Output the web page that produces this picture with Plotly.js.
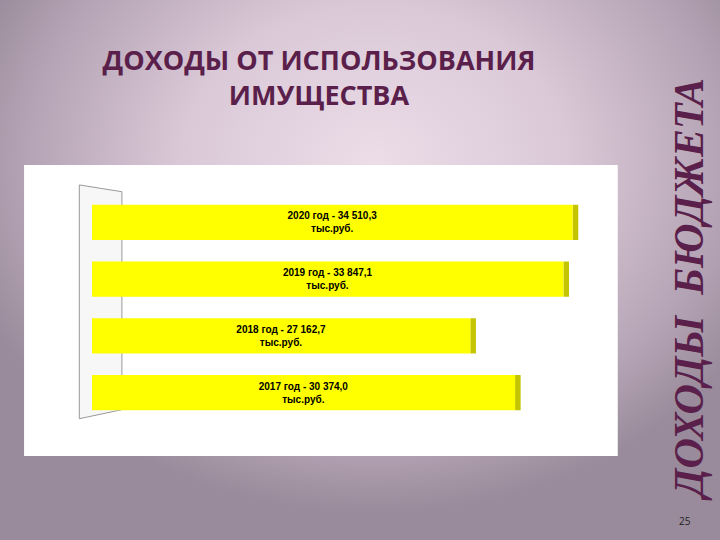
<!DOCTYPE html>
<html><head><meta charset="utf-8">
<script src="https://cdn.plot.ly/plotly-3.0.1.min.js"></script>
<style>
html,body{margin:0;padding:0;}
body{width:720px;height:540px;overflow:hidden;
background: radial-gradient(ellipse 60% 65% at 52% 30%, #ecdde8 0%, #dac8d7 45%, #b5a4b5 80%, #998b9b 100%);}
#chart{width:720px;height:540px;}
</style></head>
<body>
<div id="chart"></div>
<script>
const years = ['2017', '2018', '2019', '2020'];
const values = [30374.0, 27162.7, 33847.1, 34510.3];
const valueLabels = ['30 374,0', '27 162,7', '33 847,1', '34 510,3'];
const unit = 'тыс.руб.';
const titleText = 'ДОХОДЫ ОТ ИСПОЛЬЗОВАНИЯ<br>ИМУЩЕСТВА';
const sideText = 'ДОХОДЫ  БЮДЖЕТА';
const pageNo = '25';

const labels = years.map((y, i) => '<b>' + y + ' год - ' + valueLabels[i] + '<br>' + unit + '</b>');
const sideDepth = 400; // visual depth of the 3D end face (style)

const trace = {
  type: 'bar',
  orientation: 'h',
  y: years,
  x: values,
  text: labels,
  textposition: 'inside',
  insidetextanchor: 'middle',
  textfont: {family: '"Liberation Sans", Arial, sans-serif', size: 10, color: '#000'},
  marker: {color: '#ffff00', line: {width: 0}},
  hoverinfo: 'none'
};
const side = {
  type: 'bar',
  orientation: 'h',
  y: years,
  base: values,
  x: values.map(() => sideDepth),
  marker: {color: '#c4c400', line: {width: 0}},
  hoverinfo: 'none'
};

const layout = {
  width: 720, height: 540,
  margin: {l: 92, r: 121, t: 194, b: 119},
  paper_bgcolor: 'rgba(0,0,0,0)',
  plot_bgcolor: 'rgba(0,0,0,0)',
  showlegend: false,
  barmode: 'overlay',
  bargap: 0.38,
  title: {text: '<b>' + titleText + '</b>', x: 0.443, xanchor: 'center', y: 0.87, yanchor: 'middle',
    font: {family: '"Open Sans", sans-serif', size: 27, color: '#5a1f4a', lineheight: 1.3}},
  xaxis: {range: [0, 36400], showgrid: false, zeroline: false, showticklabels: false, showline: false, fixedrange: true},
  yaxis: {type: 'category', showgrid: false, zeroline: false, showticklabels: false, showline: false, fixedrange: true},
  shapes: [
    {type: 'rect', xref: 'paper', yref: 'paper', x0: -0.134, x1: 1.037, y0: -0.154, y1: 1.128,
      fillcolor: '#ffffff', line: {width: 0}, layer: 'below'},
    {type: 'path', xref: 'paper', yref: 'paper', path: 'M -0.025 1.04 L 0.059 1.01 L 0.059 0.05 L -0.025 0.01 Z',
      fillcolor: '#f7f7f7', line: {color: '#9a9a9a', width: 1}, layer: 'below'}
  ],
  annotations: [
    {text: '<b><i>' + sideText + '</i></b>', xref: 'paper', yref: 'paper', x: 1.178, y: 0.577, xanchor: 'center', yanchor: 'middle',
      textangle: -90, showarrow: false, font: {family: '"Liberation Serif", "DejaVu Serif", serif', size: 42, color: '#5a1f4a'}},
    {text: pageNo, xref: 'paper', yref: 'paper', x: 1.17, y: -0.44, xanchor: 'center', yanchor: 'middle',
      showarrow: false, font: {family: '"Open Sans", sans-serif', size: 10, color: '#222'}}
  ]
};

Plotly.newPlot('chart', [side, trace], layout, {displayModeBar: false, staticPlot: true});
</script>
</body></html>
